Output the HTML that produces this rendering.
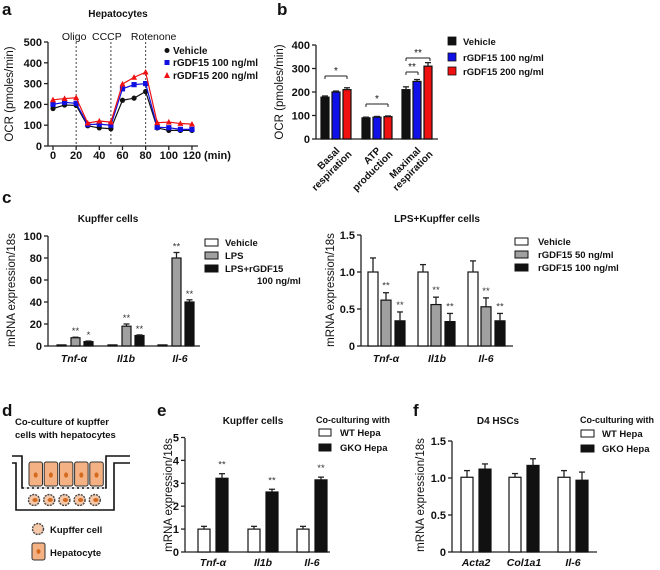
<!DOCTYPE html>
<html><head><meta charset="utf-8"><style>
html,body{margin:0;padding:0;background:#fff}
svg{display:block;font-family:"Liberation Sans",Arial,sans-serif;font-weight:bold}
</style></head><body>
<svg id="fig" width="660" height="570" viewBox="0 0 660 570"></svg>
<script>
// ---- Panel a data ----
const aTimes=[0,10,20,30,40,50,60,70,80,90,100,110,120];
const aVehicle=[180,197,195,97,87,83,220,230,262,87,75,75,75];
const aR100=[200,210,205,103,105,100,275,295,300,90,88,80,80];
const aR200=[222,228,232,110,120,115,298,330,355,112,115,108,105];
const aTicksY=[0,100,200,300,400,500];
const aTicksX=[0,20,40,60,80,100,120];
const aInject=[20,50,80];
const aInjectLabels=["Oligo","CCCP","Rotenone"];
const aInjectLabelOffsets=[-2,-4,8];
// ---- Panel b data ----
const bCats=["Basal|respiration","ATP|production","Maximal|respiration"];
const bVehicle=[178,90,210];
const bR100=[200,93,245];
const bR200=[210,95,310];
const bErrV=[5,3,12];const bErr100=[4,3,8];const bErr200=[8,3,15];
const bTicks=[0,100,200,300,400];
// ---- Panel c left ----
const cCats=["Tnf-α","Il1b","Il-6"];
const cVeh=[1,1,1];const cLPS=[7.5,18,80];const cLPSG=[4,9.5,40];
const cErrVeh=[0,0,0];const cErrLPS=[0.5,2,5];const cErrLPSG=[0.5,0.6,2];
const cSigLPS=["**","**","**"];const cSigLPSG=["*","**","**"];
const cTicks=[0,20,40,60,80,100];
// ---- Panel c right ----
const c2Veh=[1,1,1];const c2R50=[0.62,0.56,0.53];const c2R100=[0.34,0.33,0.34];
const c2ErrVeh=[0.19,0.1,0.15];const c2Err50=[0.1,0.1,0.12];const c2Err100=[0.12,0.11,0.1];
const c2Ticks=[0,0.5,1.0,1.5];const c2TickLabels=["0","0.5","1.0","1.5"];
// ---- Panel e ----
const eCats=["Tnf-α","Il1b","Il-6"];
const eWT=[1,1,1];const eGKO=[3.22,2.62,3.15];
const eErrWT=[0.12,0.12,0.12];const eErrGKO=[0.2,0.12,0.12];
const eTicks=[0,1,2,3,4,5];
// ---- Panel f ----
const fCats=["Acta2","Col1a1","Il-6"];
const fWT=[1.01,1.01,1.01];const fGKO=[1.12,1.17,0.97];
const fErrWT=[0.09,0.05,0.09];const fErrGKO=[0.07,0.09,0.11];
const fTicks=[0,0.5,1.0,1.5];const fTickLabels=["0","0.5","1.0","1.5"];

const NS="http://www.w3.org/2000/svg";
const svg=document.getElementById('fig');
function el(tag,attrs,parent,text){const e=document.createElementNS(NS,tag);for(const k in attrs)e.setAttribute(k,attrs[k]);if(text!==undefined)e.textContent=text;(parent||svg).appendChild(e);return e;}
function line(x1,y1,x2,y2,p,extra){return el('line',Object.assign({x1,y1,x2,y2,stroke:'#222','stroke-width':1.3},extra||{}),p);}
function txt(x,y,s,size,p,extra){return el('text',Object.assign({x,y,'font-size':size,fill:'#111'},extra||{}),p,s);}

function panelLetter(x,y,s){const t=txt(x,y,s,17,svg);

}

function yAxis(g,x,ys,ticks,labels,y0,y1,fs){
 line(x,y0,x,y1,g);
 ticks.forEach((v,i)=>{const y=ys(v);line(x-4,y,x,y,g);
  const t=txt(x-6,y+4,labels?labels[i]:String(v),fs||11,g,{'text-anchor':'end'});
  
  });
}
function bar(g,x,w,v,err,ys,fill,name){
 const y=ys(v),y0=ys(0);
 const r=el('rect',{x,y,width:w,height:Math.max(0,y0-y),fill,stroke:'#111','stroke-width':1.2},g);
 
 
 if(err>0){const ye=ys(v+err);line(x+w/2,y,x+w/2,ye,g);line(x+w/2-3,ye,x+w/2+3,ye,g);}
 return r;
}
function ylabel(x,y,s,fs,name){const t=txt(x,y,s,fs,svg,{'text-anchor':'middle',transform:`rotate(-90 ${x} ${y})`,'font-weight':'normal'});
 
 }

// ================= Panel a =================
(function(){
 const g=el('g',{});
 panelLetter(2,15,'a');
 const xs=v=>53+v*1.158, ys=v=>146-v*0.208;
 const t=txt(118,17,'Hepatocytes',10,g,{'text-anchor':'middle'});
 
 yAxis(g,48,ys,aTicksY,null,146,42,11);
 line(48,146,198,146,g);
 aTicksX.forEach(v=>{line(xs(v),146,xs(v),150,g);const l=txt(xs(v),159,String(v),11,g,{'text-anchor':'middle'});
  });
 const m=txt(204,159,'(min)',11,g);
 aInject.forEach((v,i)=>{const d=line(xs(v),42,xs(v),146,g,{'stroke-dasharray':'2,2','stroke-width':1,stroke:'#444'});
  
  const l=txt(xs(v)+aInjectLabelOffsets[i],40,aInjectLabels[i],10.5,g,{'text-anchor':'middle','font-weight':'normal'});
  });
 ylabel(13,94,'OCR (pmoles/min)',11.5,'y-axis-title');
 const series=[[aVehicle,'#111','circle','vehicle'],[aR100,'#1010e0','square','rgdf15-100'],[aR200,'#f01010','triangle','rgdf15-200']];
 series.forEach(([vals,c,shape,nm])=>{
  const pts=aTimes.map((t,i)=>xs(t)+','+ys(vals[i])).join(' ');
  const pl=el('polyline',{points:pts,fill:'none',stroke:c,'stroke-width':1.2},g);
  
  aTimes.forEach((t,i)=>{const x=xs(t),y=ys(vals[i]);let p;
   if(shape=='circle')p=el('circle',{cx:x,cy:y,r:2.6,fill:c},g);
   else if(shape=='square')p=el('rect',{x:x-2.6,y:y-2.6,width:5.2,height:5.2,fill:c},g);
   else p=el('polygon',{points:`${x},${y-3.2} ${x-3},${y+2.4} ${x+3},${y+2.4}`,fill:c},g);
   });
 });
 const leg=[['Vehicle','#111','circle',54],['rGDF15 100 ng/ml','#1010e0','square',66],['rGDF15 200 ng/ml','#f01010','triangle',79]];
 leg.forEach(([s,c,sh,y])=>{let p;
  if(sh=='circle')p=el('circle',{cx:167,cy:y-3.5,r:2.5,fill:c},g);
  else if(sh=='square')p=el('rect',{x:164.5,y:y-6,width:5,height:5,fill:c},g);
  else p=el('polygon',{points:`167,${y-7} 164,${y-1} 170,${y-1}`,fill:c},g);
  
  const l=txt(173,y,s,10,g);});
})();

// ================= Panel b =================
(function(){
 const g=el('g',{});
 panelLetter(277,15,'b');
 const ys=v=>139-v*0.235;
 yAxis(g,316,ys,bTicks,null,139,45,11);
 line(316,139,438,139,g);
 ylabel(283,92,'OCR (pmoles/min)',11.5,'y-axis-title');
 const gx=[321,362,402];
 bCats.forEach((c,i)=>{
  bar(g,gx[i],8,bVehicle[i],bErrV[i],ys,'#111','bar-vehicle');
  bar(g,gx[i]+11,8,bR100[i],bErr100[i],ys,'#1010e8','bar-rgdf15-100');
  bar(g,gx[i]+22,8,bR200[i],bErr200[i],ys,'#f01010','bar-rgdf15-200');
  const parts=c.split('|');const cx=gx[i]+15;
  const l=el('text',{x:cx,y:147,'font-size':10,'text-anchor':'end',fill:'#111',transform:`rotate(-45 ${cx} 147)`},g);
  
  el('tspan',{x:cx,dy:6},l,parts[0]);el('tspan',{x:cx+6,dy:11},l,parts[1]);
 });
 function bracket(x1,x2,y,s){line(x1,y+3,x1,y,g,{'stroke-width':1});line(x1,y,x2,y,g,{'stroke-width':1});line(x2,y,x2,y+3,g,{'stroke-width':1});
  const t=txt((x1+x2)/2,y-2,s,10,g,{'text-anchor':'middle','font-weight':'normal'});}
 bracket(325,347,76,'*');bracket(366,388,104,'*');bracket(406,418,72,'**');bracket(406,430,58,'**');
 const leg=[['Vehicle','#111',45],['rGDF15 100 ng/ml','#1010e8',61],['rGDF15 200 ng/ml','#f01010',75]];
 leg.forEach(([s,c,y])=>{const r=el('rect',{x:448,y:y-8,width:8,height:8,fill:c,stroke:'#111','stroke-width':0.8},g);
  
  const l=txt(463,y,s,9.5,g);});
})();

function catLabels(g,cats,centers,y){cats.forEach((c,i)=>{const t=txt(centers[i],y,c,10.5,g,{'text-anchor':'middle','font-style':'italic'});
 });}
function legendBoxes(g,x,items,w,tx){items.forEach(([s,c,y])=>{const r=el('rect',{x,y:y-6,width:w,height:7,fill:c,stroke:'#111','stroke-width':1},g);
 
 const l=txt(tx,y+1,s,9.5,g);});}
function stars(g,x,y,s){const t=txt(x,y,s,9.5,g,{'text-anchor':'middle','font-weight':'normal',fill:'#333'});}

// ================= Panel c left =================
(function(){
 const g=el('g',{});
 panelLetter(2,203,'c');
 const ys=v=>346-v*1.10;
 const t=txt(108,222,'Kupffer cells',10,g,{'text-anchor':'middle'});
 yAxis(g,48,ys,cTicks,null,346,236,11);line(48,346,200,346,g);
 ylabel(15,290,'mRNA expression/18s',11.5,'y-axis-title');
 const gx=[57,108,158];
 cCats.forEach((c,i)=>{
  bar(g,gx[i],9,cVeh[i],cErrVeh[i],ys,'#fff','bar-vehicle');
  bar(g,gx[i]+14,9,cLPS[i],cErrLPS[i],ys,'#a0a0a0','bar-lps');
  bar(g,gx[i]+27,9,cLPSG[i],cErrLPSG[i],ys,'#111','bar-lps-rgdf15');
  stars(g,gx[i]+18.5,ys(cLPS[i]+cErrLPS[i])-3,cSigLPS[i]);
  stars(g,gx[i]+31.5,ys(cLPSG[i]+cErrLPSG[i])-3,cSigLPSG[i]);
 });
 catLabels(g,cCats,[74,126,180],362);
 legendBoxes(g,205,[['Vehicle','#fff',245],['LPS','#a0a0a0',258],['LPS+rGDF15','#111',271]],13,225);
 const l=txt(257,284,'100 ng/ml',9.5,g);
})();

// ================= Panel c right =================
(function(){
 const g=el('g',{});
 const ys=v=>346-v*74;
 const t=txt(437,222,'LPS+Kupffer cells',10,g,{'text-anchor':'middle'});
 yAxis(g,361,ys,c2Ticks,c2TickLabels,346,235,11);line(361,346,513,346,g);
 ylabel(334,290,'mRNA expression/18s',11.5,'y-axis-title');
 const gx=[368,418,468];
 cCats.forEach((c,i)=>{
  bar(g,gx[i],10,c2Veh[i],c2ErrVeh[i],ys,'#fff','bar-vehicle');
  bar(g,gx[i]+13,10,c2R50[i],c2Err50[i],ys,'#a0a0a0','bar-rgdf15-50');
  bar(g,gx[i]+27,10,c2R100[i],c2Err100[i],ys,'#111','bar-rgdf15-100');
  stars(g,gx[i]+18,ys(c2R50[i]+c2Err50[i])-4,'**');
  stars(g,gx[i]+32,ys(c2R100[i]+c2Err100[i])-4,'**');
 });
 catLabels(g,cCats,[386,437,486],362);
 legendBoxes(g,515,[['Vehicle','#fff',244],['rGDF15 50 ng/ml','#a0a0a0',257],['rGDF15 100 ng/ml','#111',270]],13,538);
})();

// ================= Panel d =================
(function(){
 const g=el('g',{});
 panelLetter(2,416,'d');
 const t1=txt(15,425,'Co-culture of kupffer',9.5,g);
 const t2=txt(15,438,'cells with hepatocytes',9.5,g);
 const st={stroke:'#111','stroke-width':1.6,fill:'none'};
 el('polyline',Object.assign({points:'12,456 22,456 22,488 106,488 106,456 130,456'},st),g);
 el('polyline',Object.assign({points:'12,463 16,463 16,510 114,510 114,463 130,463'},st),g);
 el('line',{x1:24,y1:488,x2:105,y2:488,stroke:'#fff','stroke-width':1.6,'stroke-dasharray':'3,2'},g);
 for(let i=0;i<5;i++){const x=29+i*15.2;
  const r=el('rect',{x,y:462,width:13.5,height:24,rx:2,fill:'#f4b183',stroke:'#333','stroke-width':1},g);
  
  el('ellipse',{cx:x+6.7,cy:475,rx:2,ry:2.6,fill:'#d46a1e'},g);
  const k=el('circle',{cx:x+5,cy:500,r:5.5,fill:'#f4c8a8',stroke:'#444','stroke-width':1.4,'stroke-dasharray':'2,1'},g);
  
  el('ellipse',{cx:x+6,cy:500,rx:2.6,ry:2,fill:'#d46a1e'},g);
 }
 el('circle',{cx:38,cy:529,r:5.5,fill:'#f4c8a8',stroke:'#444','stroke-width':1.4,'stroke-dasharray':'2,1'},g);
 const l1=txt(50,533,'Kupffer cell',9.5,g);
 el('rect',{x:32,y:543,width:13,height:17,rx:2,fill:'#f4b183',stroke:'#333','stroke-width':1},g);
 el('ellipse',{cx:38.5,cy:551.5,rx:2,ry:2.4,fill:'#d46a1e'},g);
 const l2=txt(50,556,'Hepatocyte',9.5,g);
})();

// ================= Panel e =================
(function(){
 const g=el('g',{});
 panelLetter(157,416,'e');
 const ys=v=>552-v*22.9;
 const t=txt(253,424,'Kupffer cells',10,g,{'text-anchor':'middle'});
 yAxis(g,185,ys,eTicks,null,552,438,11);line(185,552,330,552,g);
 ylabel(172,495,'mRNA expression/18s',11.5,'y-axis-title');
 const gx=[198,248,297];
 eCats.forEach((c,i)=>{
  bar(g,gx[i],12,eWT[i],eErrWT[i],ys,'#fff','bar-wt-hepa');
  bar(g,gx[i]+18,12,eGKO[i],eErrGKO[i],ys,'#111','bar-gko-hepa');
  stars(g,gx[i]+24,ys(eGKO[i]+eErrGKO[i])-6,'**');
 });
 catLabels(g,eCats,[213,263,312],566);
 const h=txt(316,423,'Co-culturing with',9,g);
 legendBoxes(g,319,[['WT Hepa','#fff',435],['GKO Hepa','#111',450]],12,340);
})();

// ================= Panel f =================
(function(){
 const g=el('g',{});
 panelLetter(413,416,'f');
 const ys=v=>552-v*74;
 const t=txt(498,424,'D4 HSCs',10,g,{'text-anchor':'middle'});
 yAxis(g,452,ys,fTicks,fTickLabels,552,441,11);line(452,552,597,552,g);
 ylabel(424,495,'mRNA expression/18s',11.5,'y-axis-title');
 const gx=[461,509,558];
 fCats.forEach((c,i)=>{
  bar(g,gx[i],12,fWT[i],fErrWT[i],ys,'#fff','bar-wt-hepa');
  bar(g,gx[i]+18,12,fGKO[i],fErrGKO[i],ys,'#111','bar-gko-hepa');
 });
 catLabels(g,fCats,[476,524,573],566);
 const h=txt(580,423,'Co-culturing with',9,g);
 legendBoxes(g,581,[['WT Hepa','#fff',436],['GKO Hepa','#111',451]],13,602);
})();
</script>
</body></html>
